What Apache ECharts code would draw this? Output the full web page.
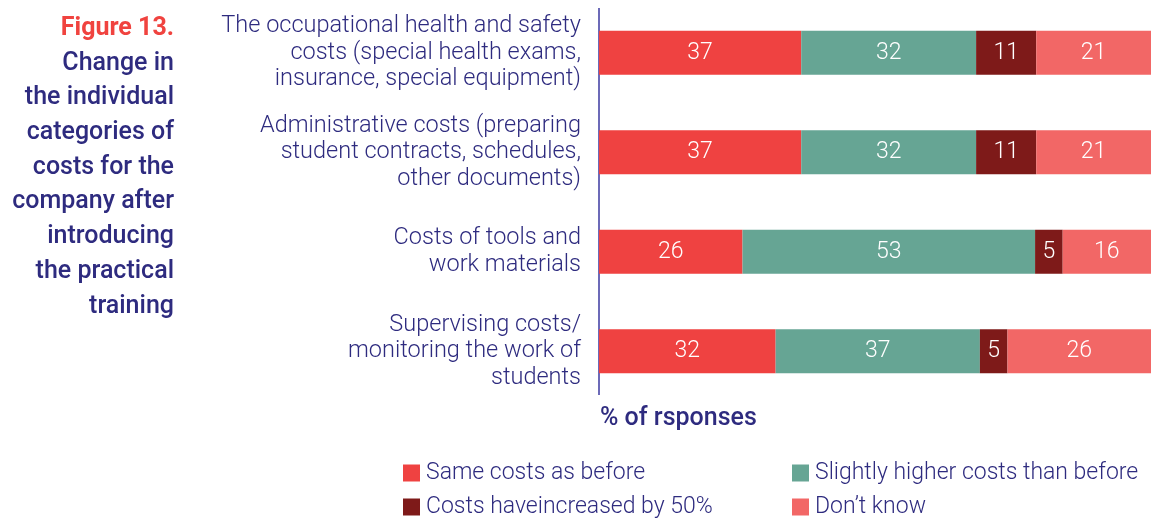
<!DOCTYPE html>
<html>
<head>
<meta charset="utf-8">
<script src="https://cdn.jsdelivr.net/npm/echarts@6/dist/echarts.min.js"></script>
<style>
html,body{margin:0;padding:0;background:#fff;}
#main{width:1157px;height:518px;}
</style>
</head>
<body>
<div id="main"></div>
<script>
/*数据*/
var categories = [
    "The occupational health and safety\ncosts (special health exams,\ninsurance, special equipment)",
    "Administrative costs (preparing\nstudent contracts, schedules,\nother documents)",
    "Costs of tools and\nwork materials",
    "Supervising costs/\nmonitoring the work of\nstudents"
];
var seriesNames = ["Same costs as before","Slightly higher costs than before","Costs haveincreased by 50%","Don\u2019t know"];
var sameCosts   = [37,37,26,32];
var slightly    = [32,32,53,37];
var increased50 = [11,11,5,5];
var dontKnow    = [21,21,16,26];
var colors = ["#EF4241","#66A594","#7E1A19","#F26766"];

var navy = "#2E2B7F";
var font = "Roboto";

/*每行按总和归一化成100%*/
var raw = [sameCosts,slightly,increased50,dontKnow];
var rowSum = categories.map(function(c,i){
    var s=0;
    for(var k=0;k<raw.length;k++){s+=raw[k][i];}
    return s;
});

var series = raw.map(function(arr,k){
    return {
        name:seriesNames[k],
        type:'bar',
        stack:'all',
        barWidth:44,
        itemStyle:{color:colors[k]},
        label:{
            show:true,
            position:'inside',
            color:'#fff',
            fontFamily:font,
            fontWeight:300,
            fontSize:23,
            formatter:function(p){return arr[p.dataIndex];}
        },
        data:arr.map(function(v,i){return v/rowSum[i]*100;})
    };
});

//图例：两列
function legendCol(left,names){
    return {
        orient:'vertical',
        left:left,top:460,height:80,
        padding:0,
        itemWidth:17,itemHeight:17,itemGap:8,
        icon:'rect',
        data:names,
        textStyle:{color:navy,fontFamily:font,fontWeight:300,fontSize:23,lineHeight:26,padding:[0,0,0,1]}
    };
}

var myChart = echarts.init(document.getElementById('main'));
myChart.setOption({
    animation:false,
    grid:{left:599,right:6,top:3,height:398},
    xAxis:{type:'value',min:0,max:100,show:false},
    yAxis:{
        type:'category',
        inverse:true,
        data:categories,
        axisLine:{show:false},
        axisTick:{show:false},
        axisLabel:{
            margin:18,
            color:navy,
            fontFamily:font,
            fontWeight:300,
            fontSize:23.5,
            lineHeight:26.5,
            align:'right'
        }
    },
    legend:[
        legendCol(403,[seriesNames[0],seriesNames[2]]),
        legendCol(792,[seriesNames[1],seriesNames[3]])
    ],
    graphic:[
        {type:'line',shape:{x1:599,y1:8,x2:599,y2:395},style:{stroke:'#3B38A0',lineWidth:1.5}},
        {type:'text',x:174,y:16,style:{text:'Figure 13.',align:'right',fill:'#F0433F',font:'bold 25px '+font}},
        {type:'text',x:174,y:46,style:{
            text:'Change in\nthe individual\ncategories of\ncosts for the\ncompany after\nintroducing\nthe practical\ntraining',
            align:'right',fill:navy,font:'500 25px '+font,lineHeight:34.7}},
        {type:'text',x:600,y:406,style:{text:'% of rsponses',fill:navy,font:'500 25px '+font}}
    ],
    series:series
});
</script>
</body>
</html>
